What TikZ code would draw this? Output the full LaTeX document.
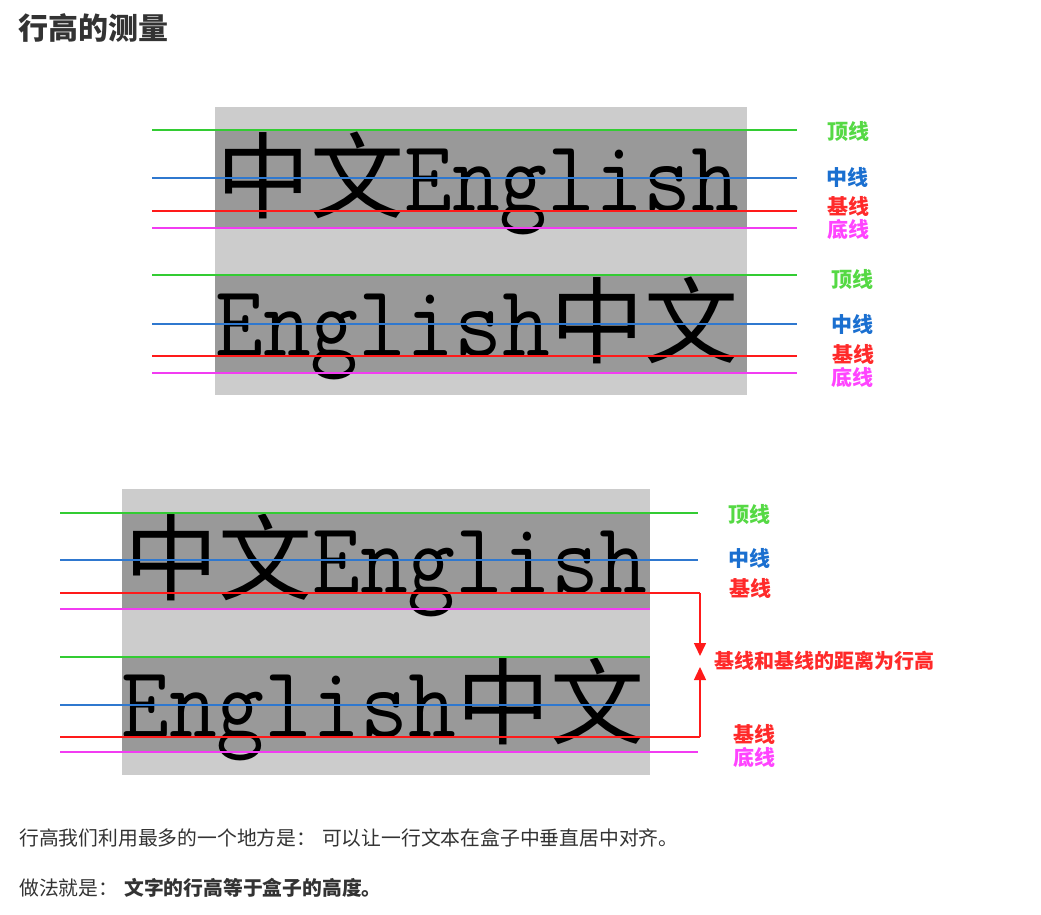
\documentclass[tikz,border=0pt]{standalone}
\usepackage{fontspec}
\usetikzlibrary{arrows.meta}
\newfontfamily\cjk{Noto Sans CJK SC}
\definecolor{lightg}{HTML}{CCCCCC}
\definecolor{darkg}{HTML}{999999}
\definecolor{lgreen}{HTML}{33CC33}
\definecolor{lblue}{HTML}{2F78CF}
\definecolor{lred}{HTML}{FF1A1A}
\definecolor{lmag}{HTML}{F23CF2}
\definecolor{tgreen}{HTML}{55D944}
\definecolor{tblue}{HTML}{1A6FD0}
\definecolor{tred}{HTML}{FF2A2A}
\definecolor{tmag}{HTML}{FF44FF}
\definecolor{txt}{HTML}{333333}
\newcommand{\bigcjk}[1]{{\cjk\fontsize{94}{94}\selectfont #1}}
\newcommand{\bigen}[1]{\scalebox{1}[1.1]{\fontsize{93}{94}\selectfont\ttfamily #1}}
\tikzset{
  gline/.style={lgreen, line width=2.5pt},
  bline/.style={lblue, line width=2.5pt},
  rline/.style={lred, line width=2.5pt},
  mline/.style={lmag, line width=2.5pt},
  lab/.style={inner sep=0pt, font=\cjk\bfseries\fontsize{21}{21}\selectfont},
  bigtext/.style={anchor=base west, inner sep=0pt, text=black},
  para/.style={anchor=west, inner sep=0pt, text=txt, font=\cjk\fontsize{19.8}{20}\selectfont},
  dist/.style={lred, line width=1.5pt, -{Triangle[width=12pt,length=13pt]}}
}
\begin{document}
\begin{tikzpicture}[x=1pt,y=-1pt]
\useasboundingbox (0,0) rectangle (1041,914);
\fill[white] (0,0) rectangle (1041,914);

% title
\node[anchor=west, inner sep=0pt, text=txt, font=\cjk\bfseries\fontsize{30}{30}\selectfont] (title) at (18,28) {行高的测量};

% ---------- top diagram ----------
\fill[lightg] (215,107) rectangle (747,395);
\fill[darkg] (215,130) rectangle (747,228);
\fill[darkg] (215,275) rectangle (747,373);
\node[bigtext] (ta) at (216,211) {\bigcjk{中文}\bigen{English}};
\node[bigtext] (tb) at (215,356) {\bigen{English}\bigcjk{中文}};
\draw[gline] (152,130) -- (797,130);
\draw[bline] (152,178) -- (797,178);
\draw[rline] (152,211) -- (797,211);
\draw[mline] (152,228) -- (797,228);
\draw[gline] (152,275) -- (797,275);
\draw[bline] (152,324) -- (797,324);
\draw[rline] (152,356) -- (797,356);
\draw[mline] (152,373) -- (797,373);
\node[lab, text=tgreen] (ta1) at (848,131) {顶线};
\node[lab, text=tblue] (ta2) at (847,177) {中线};
\node[lab, text=tred] (ta3) at (848,206) {基线};
\node[lab, text=tmag] (ta4) at (848,229) {底线};
\node[lab, text=tgreen] (tb1) at (852,279) {顶线};
\node[lab, text=tblue] (tb2) at (852,324) {中线};
\node[lab, text=tred] (tb3) at (853,354) {基线};
\node[lab, text=tmag] (tb4) at (852,377) {底线};

% ---------- bottom diagram ----------
\fill[lightg] (122,489) rectangle (650,775);
\fill[darkg] (122,513) rectangle (650,609);
\fill[darkg] (122,657) rectangle (650,752);
\node[bigtext] (ba) at (124,593) {\bigcjk{中文}\bigen{English}};
\node[bigtext] (bb) at (121,737) {\bigen{English}\bigcjk{中文}};
\draw[gline] (60,513) -- (698,513);
\draw[bline] (60,560) -- (698,560);
\coordinate (r1) at (700,593);
\coordinate (r2) at (700,737);
\draw[rline] (60,593) -- (r1);
\draw[mline] (60,609) -- (650,609);
\draw[gline] (60,657) -- (650,657);
\draw[bline] (60,705) -- (650,705);
\draw[rline] (60,737) -- (r2);
\draw[mline] (60,752) -- (698,752);
\coordinate (a1) at (700,656);
\coordinate (a2) at (700,667);
\draw[dist] (r1) -- (a1);
\draw[dist] (r2) -- (a2);
\node[lab, text=tgreen] (bl1) at (749,514) {顶线};
\node[lab, text=tblue] (bl2) at (749,558) {中线};
\node[lab, text=tred] (bl3) at (750,588) {基线};
\node[lab, text=tred] (bl4) at (754,734) {基线};
\node[lab, text=tmag] (bl5) at (754,757) {底线};
\node[lab, text=tred, anchor=west, font=\cjk\bfseries\fontsize{20}{20}\selectfont] (dl) at (714,661) {基线和基线的距离为行高};

% ---------- paragraph ----------
\node[para] (p1) at (19,838) {行高我们利用最多的一个地方是：\hspace{6pt}可以让一行文本在盒子中垂直居中对齐。};
\node[para] (p2) at (19,888) {做法就是：\hspace{6pt}{\bfseries 文字的行高等于盒子的高度。}};
\end{tikzpicture}
\end{document}
